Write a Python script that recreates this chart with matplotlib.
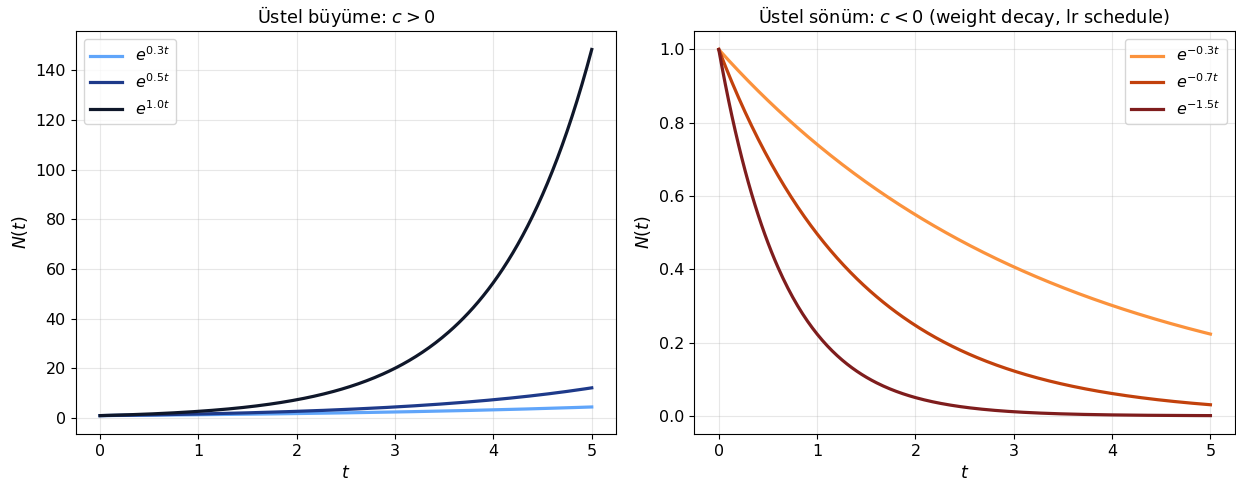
import numpy as np
import matplotlib
matplotlib.use("Agg")
import matplotlib.pyplot as plt

t_start, t_end = 0.0, 5.0
growth_rates = [0.3, 0.5, 1.0]
growth_colors = ["#60a5fa", "#1e3a8a", "#0f172a"]
decay_rates = [-0.3, -0.7, -1.5]
decay_colors = ["#fb923c", "#c2410c", "#7f1d1d"]

t = np.linspace(t_start, t_end, 300)

plt.rcParams.update({
    "xtick.labelsize": 11.5,
    "ytick.labelsize": 11.5,
    "axes.labelsize": 12.5,
    "axes.titlesize": 12.8,
    "legend.fontsize": 11.5,
})

fig, axes = plt.subplots(1, 2, figsize=(12.36, 4.87), dpi=100)
fig.subplots_adjust(left=0.0611, right=0.9992, bottom=0.109, top=0.936, wspace=0.144)

ax = axes[0]
for c, col in zip(growth_rates, growth_colors):
    ax.plot(t, np.exp(c * t), color=col, lw=2.3, label=rf"$e^{{{c:.1f}t}}$")
ax.set_title(r"Üstel büyüme: $c > 0$")
ax.set_xlabel(r"$t$")
ax.set_ylabel(r"$N(t)$")
ax.grid(True, alpha=0.3)
ax.legend(loc="upper left")

ax = axes[1]
for c, col in zip(decay_rates, decay_colors):
    ax.plot(t, np.exp(c * t), color=col, lw=2.3, label=rf"$e^{{{c:.1f}t}}$")
ax.set_title(r"Üstel sönüm: $c < 0$ (weight decay, lr schedule)")
ax.set_xlabel(r"$t$")
ax.set_ylabel(r"$N(t)$")
ax.grid(True, alpha=0.3)
ax.legend(loc="upper right")

fig.savefig("out.png", dpi=100)
